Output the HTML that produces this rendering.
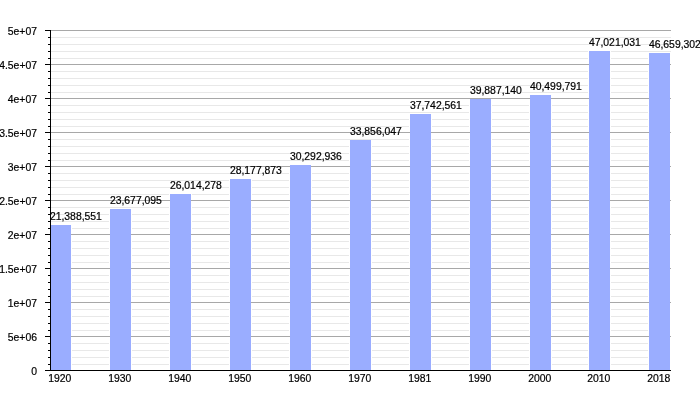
<!DOCTYPE html><html><head><meta charset="utf-8"><style>html,body{margin:0;padding:0;background:#fff;width:700px;height:400px;overflow:hidden}svg{display:block}#w{will-change:transform}text{font-family:"Liberation Sans",sans-serif;font-size:10px;fill:#000;stroke:#000;stroke-width:0.2px}</style></head><body>
<div id="w"><svg width="700" height="400" viewBox="0 0 700 400" shape-rendering="crispEdges">
<rect x="51" y="364" width="620" height="1" fill="#e8e8e8"/>
<rect x="51" y="357" width="620" height="1" fill="#e8e8e8"/>
<rect x="51" y="350" width="620" height="1" fill="#e8e8e8"/>
<rect x="51" y="343" width="620" height="1" fill="#e8e8e8"/>
<rect x="51" y="330" width="620" height="1" fill="#e8e8e8"/>
<rect x="51" y="323" width="620" height="1" fill="#e8e8e8"/>
<rect x="51" y="316" width="620" height="1" fill="#e8e8e8"/>
<rect x="51" y="309" width="620" height="1" fill="#e8e8e8"/>
<rect x="51" y="296" width="620" height="1" fill="#e8e8e8"/>
<rect x="51" y="289" width="620" height="1" fill="#e8e8e8"/>
<rect x="51" y="282" width="620" height="1" fill="#e8e8e8"/>
<rect x="51" y="275" width="620" height="1" fill="#e8e8e8"/>
<rect x="51" y="262" width="620" height="1" fill="#e8e8e8"/>
<rect x="51" y="255" width="620" height="1" fill="#e8e8e8"/>
<rect x="51" y="248" width="620" height="1" fill="#e8e8e8"/>
<rect x="51" y="241" width="620" height="1" fill="#e8e8e8"/>
<rect x="51" y="228" width="620" height="1" fill="#e8e8e8"/>
<rect x="51" y="221" width="620" height="1" fill="#e8e8e8"/>
<rect x="51" y="214" width="620" height="1" fill="#e8e8e8"/>
<rect x="51" y="207" width="620" height="1" fill="#e8e8e8"/>
<rect x="51" y="194" width="620" height="1" fill="#e8e8e8"/>
<rect x="51" y="187" width="620" height="1" fill="#e8e8e8"/>
<rect x="51" y="180" width="620" height="1" fill="#e8e8e8"/>
<rect x="51" y="173" width="620" height="1" fill="#e8e8e8"/>
<rect x="51" y="160" width="620" height="1" fill="#e8e8e8"/>
<rect x="51" y="153" width="620" height="1" fill="#e8e8e8"/>
<rect x="51" y="146" width="620" height="1" fill="#e8e8e8"/>
<rect x="51" y="139" width="620" height="1" fill="#e8e8e8"/>
<rect x="51" y="126" width="620" height="1" fill="#e8e8e8"/>
<rect x="51" y="119" width="620" height="1" fill="#e8e8e8"/>
<rect x="51" y="112" width="620" height="1" fill="#e8e8e8"/>
<rect x="51" y="105" width="620" height="1" fill="#e8e8e8"/>
<rect x="51" y="92" width="620" height="1" fill="#e8e8e8"/>
<rect x="51" y="85" width="620" height="1" fill="#e8e8e8"/>
<rect x="51" y="78" width="620" height="1" fill="#e8e8e8"/>
<rect x="51" y="71" width="620" height="1" fill="#e8e8e8"/>
<rect x="51" y="58" width="620" height="1" fill="#e8e8e8"/>
<rect x="51" y="51" width="620" height="1" fill="#e8e8e8"/>
<rect x="51" y="44" width="620" height="1" fill="#e8e8e8"/>
<rect x="51" y="37" width="620" height="1" fill="#e8e8e8"/>
<rect x="49" y="225" width="23" height="145" fill="#fff"/>
<rect x="109" y="209" width="23" height="161" fill="#fff"/>
<rect x="169" y="194" width="23" height="176" fill="#fff"/>
<rect x="229" y="179" width="23" height="191" fill="#fff"/>
<rect x="289" y="165" width="23" height="205" fill="#fff"/>
<rect x="349" y="140" width="23" height="230" fill="#fff"/>
<rect x="409" y="114" width="23" height="256" fill="#fff"/>
<rect x="469" y="99" width="23" height="271" fill="#fff"/>
<rect x="529" y="95" width="23" height="275" fill="#fff"/>
<rect x="588" y="51" width="23" height="319" fill="#fff"/>
<rect x="648" y="53" width="23" height="317" fill="#fff"/>
<rect x="51" y="336" width="620" height="1" fill="#a8a8a8"/>
<rect x="51" y="302" width="620" height="1" fill="#a8a8a8"/>
<rect x="51" y="268" width="620" height="1" fill="#a8a8a8"/>
<rect x="51" y="234" width="620" height="1" fill="#a8a8a8"/>
<rect x="51" y="200" width="620" height="1" fill="#a8a8a8"/>
<rect x="51" y="166" width="620" height="1" fill="#a8a8a8"/>
<rect x="51" y="132" width="620" height="1" fill="#a8a8a8"/>
<rect x="51" y="98" width="620" height="1" fill="#a8a8a8"/>
<rect x="51" y="64" width="620" height="1" fill="#a8a8a8"/>
<rect x="51" y="30" width="620" height="1" fill="#a8a8a8"/>
<rect x="50" y="225" width="21" height="145" fill="#9aadff"/>
<rect x="110" y="209" width="21" height="161" fill="#9aadff"/>
<rect x="170" y="194" width="21" height="176" fill="#9aadff"/>
<rect x="230" y="179" width="21" height="191" fill="#9aadff"/>
<rect x="290" y="165" width="21" height="205" fill="#9aadff"/>
<rect x="350" y="140" width="21" height="230" fill="#9aadff"/>
<rect x="410" y="114" width="21" height="256" fill="#9aadff"/>
<rect x="470" y="99" width="21" height="271" fill="#9aadff"/>
<rect x="530" y="95" width="21" height="275" fill="#9aadff"/>
<rect x="589" y="51" width="21" height="319" fill="#9aadff"/>
<rect x="649" y="53" width="21" height="317" fill="#9aadff"/>
<rect x="50" y="30" width="1" height="341" fill="#000"/>
<rect x="45" y="370" width="626" height="1" fill="#000"/>
<rect x="45" y="370" width="5" height="1" fill="#000"/>
<rect x="48" y="364" width="2" height="1" fill="#000"/>
<rect x="48" y="357" width="2" height="1" fill="#000"/>
<rect x="48" y="350" width="2" height="1" fill="#000"/>
<rect x="48" y="343" width="2" height="1" fill="#000"/>
<rect x="45" y="336" width="5" height="1" fill="#000"/>
<rect x="48" y="330" width="2" height="1" fill="#000"/>
<rect x="48" y="323" width="2" height="1" fill="#000"/>
<rect x="48" y="316" width="2" height="1" fill="#000"/>
<rect x="48" y="309" width="2" height="1" fill="#000"/>
<rect x="45" y="302" width="5" height="1" fill="#000"/>
<rect x="48" y="296" width="2" height="1" fill="#000"/>
<rect x="48" y="289" width="2" height="1" fill="#000"/>
<rect x="48" y="282" width="2" height="1" fill="#000"/>
<rect x="48" y="275" width="2" height="1" fill="#000"/>
<rect x="45" y="268" width="5" height="1" fill="#000"/>
<rect x="48" y="262" width="2" height="1" fill="#000"/>
<rect x="48" y="255" width="2" height="1" fill="#000"/>
<rect x="48" y="248" width="2" height="1" fill="#000"/>
<rect x="48" y="241" width="2" height="1" fill="#000"/>
<rect x="45" y="234" width="5" height="1" fill="#000"/>
<rect x="48" y="228" width="2" height="1" fill="#000"/>
<rect x="48" y="221" width="2" height="1" fill="#000"/>
<rect x="48" y="214" width="2" height="1" fill="#000"/>
<rect x="48" y="207" width="2" height="1" fill="#000"/>
<rect x="45" y="200" width="5" height="1" fill="#000"/>
<rect x="48" y="194" width="2" height="1" fill="#000"/>
<rect x="48" y="187" width="2" height="1" fill="#000"/>
<rect x="48" y="180" width="2" height="1" fill="#000"/>
<rect x="48" y="173" width="2" height="1" fill="#000"/>
<rect x="45" y="166" width="5" height="1" fill="#000"/>
<rect x="48" y="160" width="2" height="1" fill="#000"/>
<rect x="48" y="153" width="2" height="1" fill="#000"/>
<rect x="48" y="146" width="2" height="1" fill="#000"/>
<rect x="48" y="139" width="2" height="1" fill="#000"/>
<rect x="45" y="132" width="5" height="1" fill="#000"/>
<rect x="48" y="126" width="2" height="1" fill="#000"/>
<rect x="48" y="119" width="2" height="1" fill="#000"/>
<rect x="48" y="112" width="2" height="1" fill="#000"/>
<rect x="48" y="105" width="2" height="1" fill="#000"/>
<rect x="45" y="98" width="5" height="1" fill="#000"/>
<rect x="48" y="92" width="2" height="1" fill="#000"/>
<rect x="48" y="85" width="2" height="1" fill="#000"/>
<rect x="48" y="78" width="2" height="1" fill="#000"/>
<rect x="48" y="71" width="2" height="1" fill="#000"/>
<rect x="45" y="64" width="5" height="1" fill="#000"/>
<rect x="48" y="58" width="2" height="1" fill="#000"/>
<rect x="48" y="51" width="2" height="1" fill="#000"/>
<rect x="48" y="44" width="2" height="1" fill="#000"/>
<rect x="48" y="37" width="2" height="1" fill="#000"/>
<rect x="45" y="30" width="5" height="1" fill="#000"/>
<text transform="translate(37.00,374.60) scale(1.04,1)" text-anchor="end">0</text>
<text transform="translate(37.00,340.60) scale(1.04,1)" text-anchor="end">5e+06</text>
<text transform="translate(37.00,306.60) scale(1.04,1)" text-anchor="end">1e+07</text>
<text transform="translate(37.00,272.60) scale(1.04,1)" text-anchor="end">1.5e+07</text>
<text transform="translate(37.00,238.60) scale(1.04,1)" text-anchor="end">2e+07</text>
<text transform="translate(37.00,204.60) scale(1.04,1)" text-anchor="end">2.5e+07</text>
<text transform="translate(37.00,170.60) scale(1.04,1)" text-anchor="end">3e+07</text>
<text transform="translate(37.00,136.60) scale(1.04,1)" text-anchor="end">3.5e+07</text>
<text transform="translate(37.00,102.60) scale(1.04,1)" text-anchor="end">4e+07</text>
<text transform="translate(37.00,68.60) scale(1.04,1)" text-anchor="end">4.5e+07</text>
<text transform="translate(37.00,34.60) scale(1.04,1)" text-anchor="end">5e+07</text>
<text transform="translate(49.90,220.00) scale(1.04,1)">21,388,551</text>
<text transform="translate(59.80,381.60) scale(1.04,1)" text-anchor="middle">1920</text>
<text transform="translate(109.90,204.00) scale(1.04,1)">23,677,095</text>
<text transform="translate(119.80,381.60) scale(1.04,1)" text-anchor="middle">1930</text>
<text transform="translate(169.90,189.00) scale(1.04,1)">26,014,278</text>
<text transform="translate(179.80,381.60) scale(1.04,1)" text-anchor="middle">1940</text>
<text transform="translate(229.90,174.00) scale(1.04,1)">28,177,873</text>
<text transform="translate(239.80,381.60) scale(1.04,1)" text-anchor="middle">1950</text>
<text transform="translate(289.90,160.00) scale(1.04,1)">30,292,936</text>
<text transform="translate(299.80,381.60) scale(1.04,1)" text-anchor="middle">1960</text>
<text transform="translate(349.90,135.00) scale(1.04,1)">33,856,047</text>
<text transform="translate(359.80,381.60) scale(1.04,1)" text-anchor="middle">1970</text>
<text transform="translate(409.90,109.00) scale(1.04,1)">37,742,561</text>
<text transform="translate(419.80,381.60) scale(1.04,1)" text-anchor="middle">1981</text>
<text transform="translate(469.90,94.00) scale(1.04,1)">39,887,140</text>
<text transform="translate(479.80,381.60) scale(1.04,1)" text-anchor="middle">1990</text>
<text transform="translate(529.90,90.00) scale(1.04,1)">40,499,791</text>
<text transform="translate(539.80,381.60) scale(1.04,1)" text-anchor="middle">2000</text>
<text transform="translate(588.90,46.00) scale(1.04,1)">47,021,031</text>
<text transform="translate(598.80,381.60) scale(1.04,1)" text-anchor="middle">2010</text>
<text transform="translate(648.90,48.00) scale(1.04,1)">46,659,302</text>
<text transform="translate(658.80,381.60) scale(1.04,1)" text-anchor="middle">2018</text>
</svg></div></body></html>
